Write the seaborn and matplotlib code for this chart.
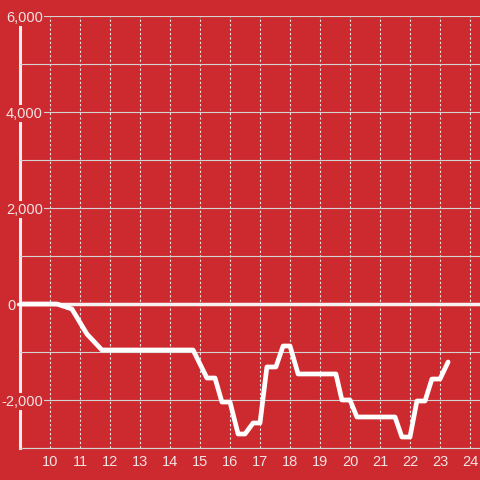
import pandas as pd
import seaborn as sns
import matplotlib.pyplot as plt

# values
hours = [9.0, 10.23, 10.73, 11.23, 11.73, 14.77, 15.23, 15.5, 15.73, 16.0,
         16.27, 16.5, 16.77, 17.0, 17.23, 17.53, 17.77, 18.0, 18.27, 19.53,
         19.73, 20.0, 20.23, 21.5, 21.73, 22.0, 22.23, 22.5, 22.73, 23.0, 23.27]
balance = [0, 0, -104, -625, -958, -958, -1542, -1542, -2042, -2042,
           -2708, -2708, -2479, -2479, -1312, -1312, -875, -875, -1458, -1458,
           -2000, -2000, -2354, -2354, -2771, -2771, -2021, -2021, -1563, -1563, -1208]
x_ticks = list(range(10, 25))
y_ticks = [-2000, 0, 2000, 4000, 6000]
y_minor = [-3000, -1000, 1000, 3000, 5000]

bg = '#cd2a2f'
txt = '#f3e3e3'

sns.set_style('white', rc={'axes.facecolor': bg, 'figure.facecolor': bg})
plt.rcParams['font.family'] = ['Liberation Sans', 'DejaVu Sans']

df = pd.DataFrame({'hour': hours, 'balance': balance})

fig = plt.figure(figsize=(4.8, 4.8), dpi=100)
ax = fig.add_axes([20 / 480, 32 / 480, 460 / 480, 432 / 480])
ax.set_axisbelow(True)

sns.lineplot(data=df, x='hour', y='balance', ax=ax, color='white', linewidth=3.4, zorder=3)
ax.axhline(0, xmin=-2 / 460, color='#f7f2f2', linewidth=2.5, zorder=2, clip_on=False)

ax.set_xlim(9, 9 + 460 / 30)
ax.set_ylim(-3000, 6000)
ax.set_xticks(x_ticks)
ax.set_xticklabels([str(t) for t in x_ticks])
ax.set_yticks(y_ticks)
ax.set_yticks(y_minor, minor=True)
ax.set_yticklabels([f'{t:,}' for t in y_ticks])

ax.grid(axis='y', which='both', color='#d2d2d2', linewidth=0.8)
ax.grid(axis='x', which='major', color='#e6e6e6', linewidth=0.8, linestyle=(0, (2, 2)))

ax.tick_params(axis='y', which='both', length=0, pad=-16.5, labelsize=10.5, labelcolor=txt)
ax.tick_params(axis='x', length=0, pad=5, labelsize=10.5, labelcolor=txt)
for lbl in ax.get_yticklabels():
    lbl.set_horizontalalignment('right')
    lbl.set_bbox(dict(facecolor=bg, edgecolor='none', pad=1))
    if lbl.get_text() == '0':
        # the zero label sits left of the axis line in the original
        lbl.set_x(-27 / 460)
        lbl.set_bbox(None)

for side in ['top', 'right']:
    ax.spines[side].set_visible(False)
ax.spines['left'].set_color('#f2eeee')
ax.spines['left'].set_linewidth(2.2)
ax.spines['left'].set_zorder(0.4)
ax.spines['bottom'].set_color('#d2d2d2')
ax.spines['bottom'].set_linewidth(0.8)

ax.set_xlabel('')
ax.set_ylabel('')

fig.savefig('out.png', dpi=100, facecolor=bg)
